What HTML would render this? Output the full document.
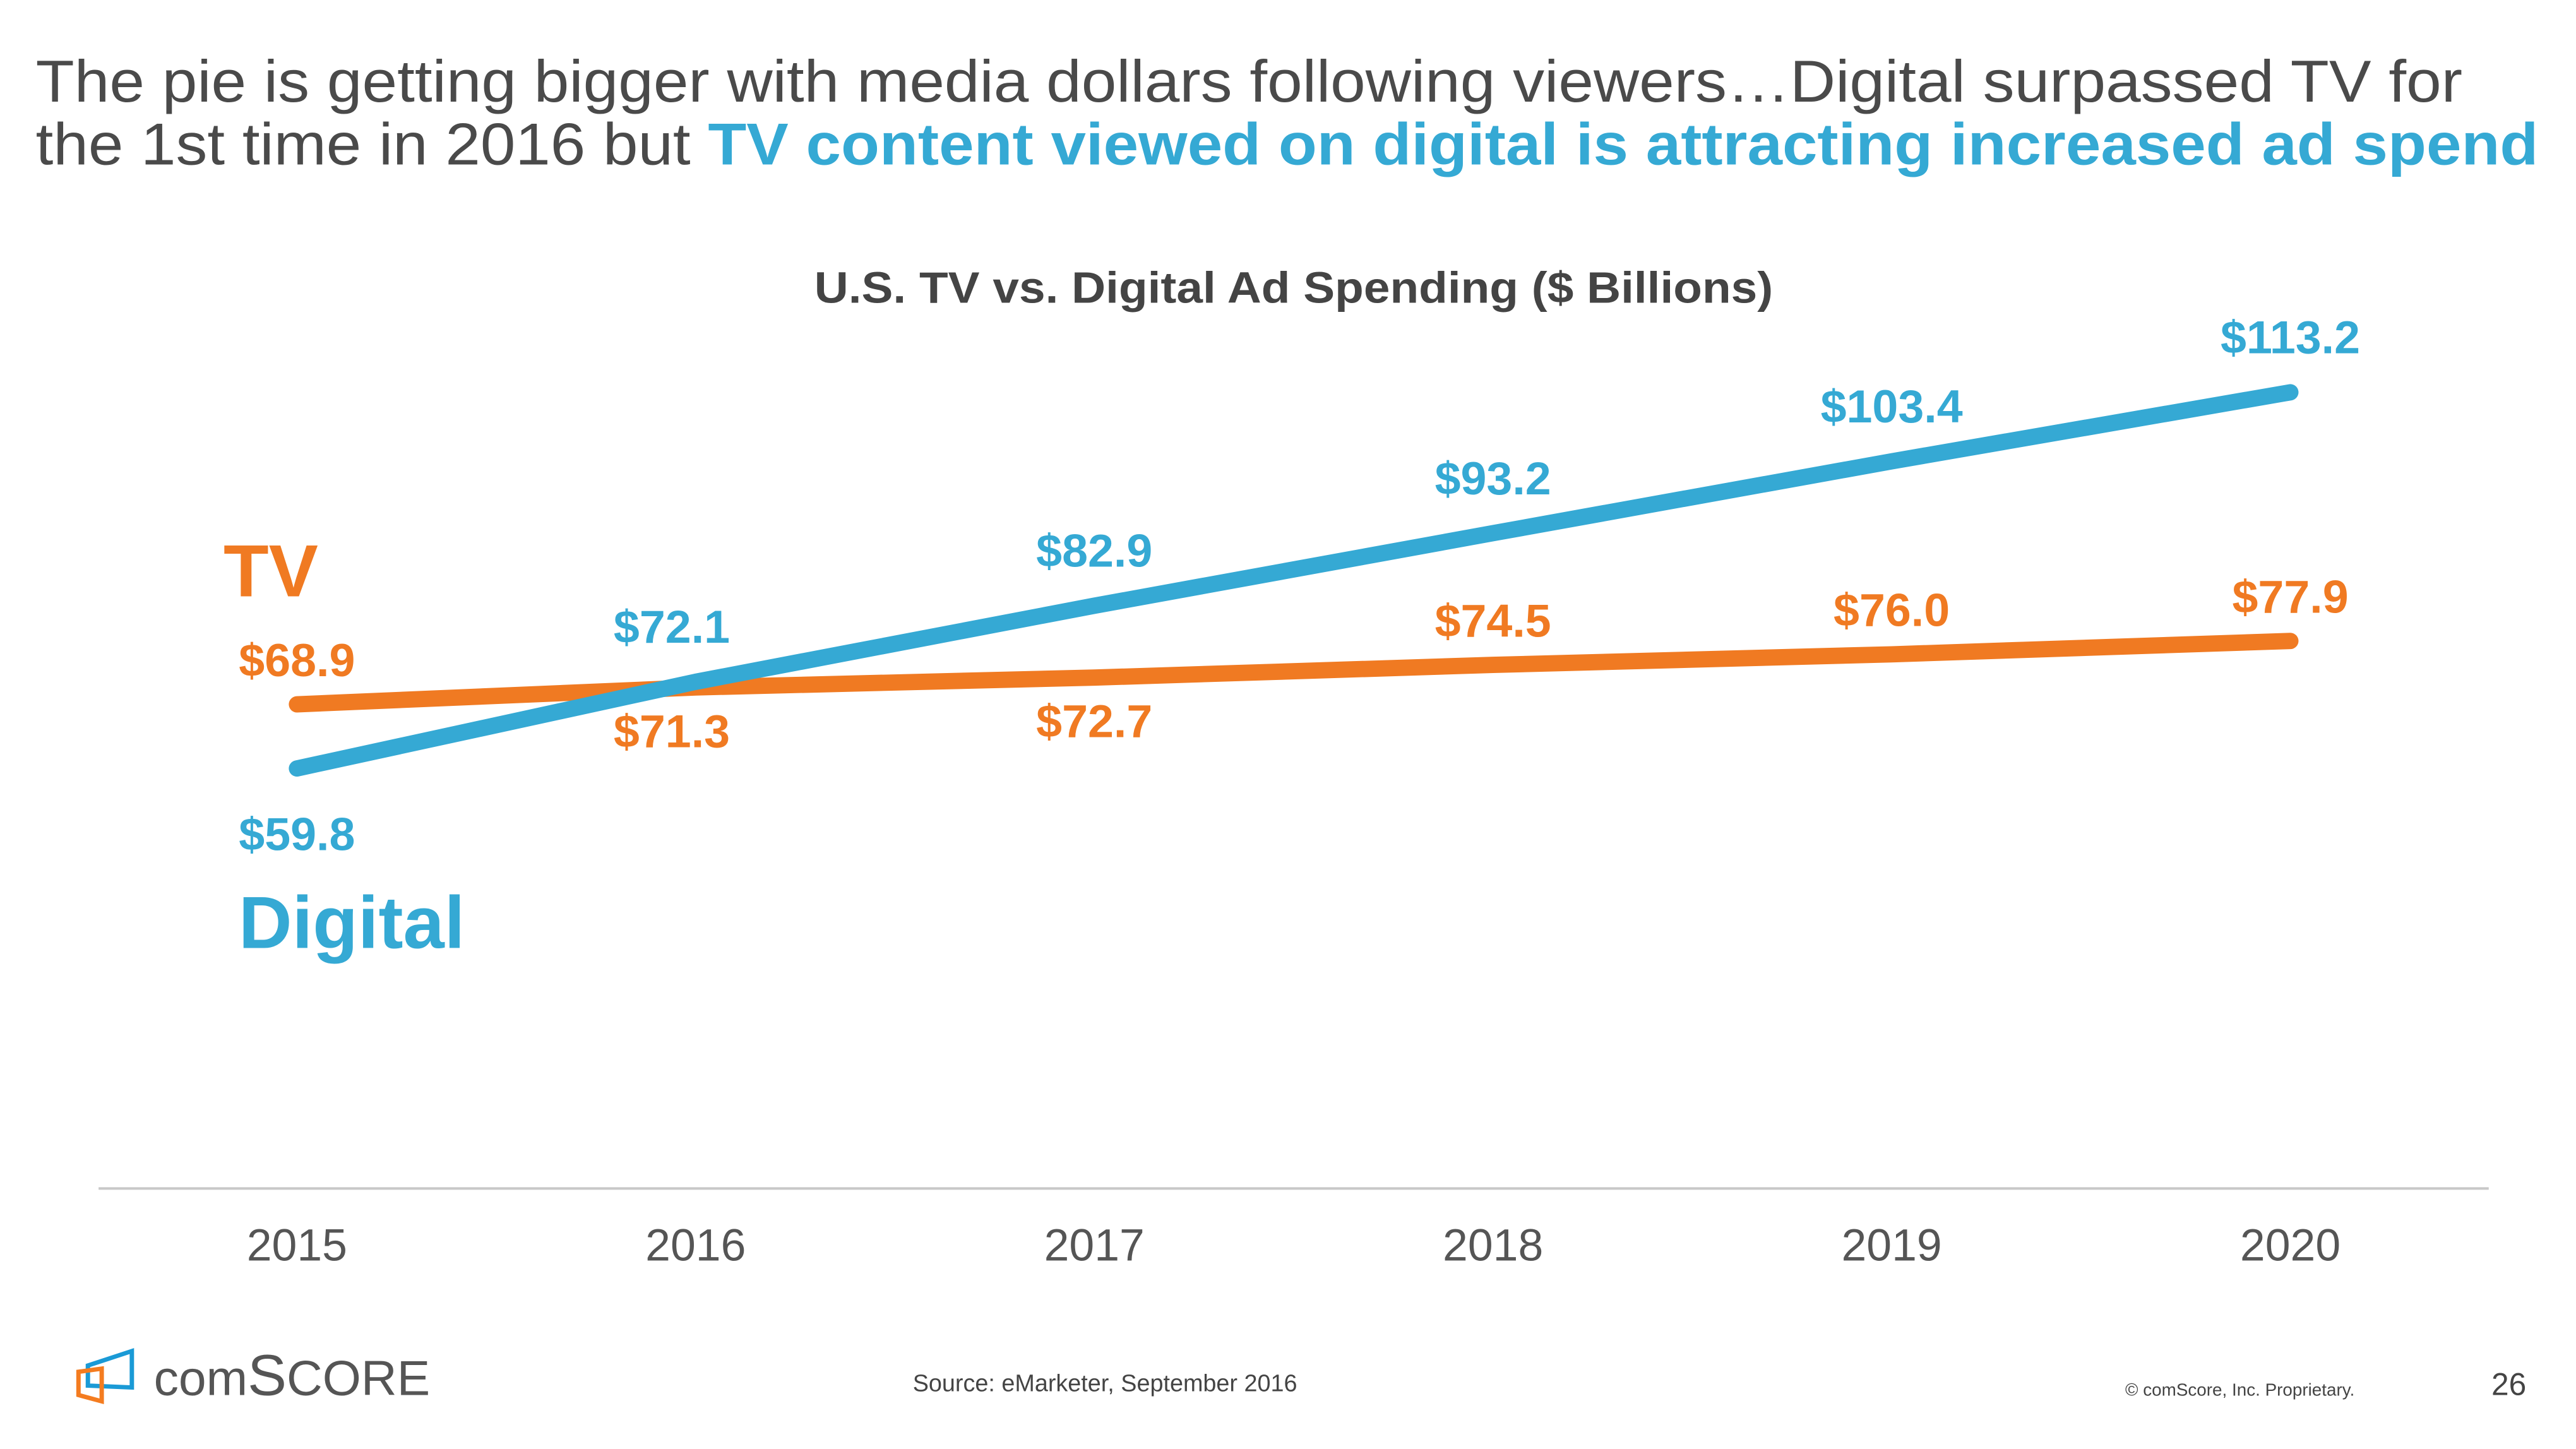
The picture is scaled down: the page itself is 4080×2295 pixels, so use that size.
<!DOCTYPE html>
<html><head><meta charset="utf-8"><style>
html,body{margin:0;padding:0;background:#fff;}
svg{display:block;font-family:"Liberation Sans Narrow","Liberation Sans",sans-serif;}
</style></head><body>
<svg id="chart" width="4080" height="2295" viewBox="0 0 4103 2308" preserveAspectRatio="none" xmlns="http://www.w3.org/2000/svg">
<text x="57" y="162" font-size="94" fill="#4a4a4a" textLength="3865" lengthAdjust="spacingAndGlyphs">The pie is getting bigger with media dollars following viewers…Digital surpassed TV for</text>
<text x="57" y="262" font-size="94" fill="#4a4a4a" textLength="3986" lengthAdjust="spacingAndGlyphs">the 1st time in 2016 but <tspan fill="#35a9d4" font-weight="bold">TV content viewed on digital is attracting increased ad spend</tspan></text>
<text x="1297" y="482" font-size="70" font-weight="bold" fill="#444" textLength="1527" lengthAdjust="spacingAndGlyphs">U.S. TV vs. Digital Ad Spending ($ Billions)</text>
<line x1="157" y1="1893" x2="3964" y2="1893" stroke="#c8c8c8" stroke-width="4"/>
<g id="years"></g>
<g id="lines"></g>
<g id="labels"></g>
<text x="356" y="950" font-size="118" font-weight="bold" fill="#f07a22">TV</text>
<text x="380" y="1510" font-size="118" font-weight="bold" fill="#35a9d4">Digital</text>
<g>
<path d="M140 2175 L210 2152 L210 2210 L140 2207 Z" fill="none" stroke="#1a9ad6" stroke-width="7"/>
<path d="M125 2185 L162 2180 L162 2232 L125 2222 Z" fill="none" stroke="#f47c20" stroke-width="7"/>
<text x="245" y="2222" font-family="Liberation Sans Narrow,Liberation Sans,sans-serif" font-size="78" fill="#555" textLength="440" lengthAdjust="spacingAndGlyphs">com<tspan font-size="92">S</tspan>CORE</text>
</g>
<text x="1760" y="2216" font-size="38" fill="#444" text-anchor="middle">Source: eMarketer, September 2016</text>
<text x="3385" y="2223" font-size="28" fill="#444">© comScore, Inc. Proprietary.</text>
<text x="3996" y="2222" font-size="50" fill="#444" text-anchor="middle">26</text>
</svg>
<script>
const years = ["2015","2016","2017","2018","2019","2020"];
const digital = [59.8,72.1,82.9,93.2,103.4,113.2];
const tv = [68.9,71.3,72.7,74.5,76.0,77.9];
const tvLabelBelow = [false,true,true,false,false,false];
const digitalLabelBelow = [true,false,false,false,false,false];
const NS="http://www.w3.org/2000/svg";
const X = i => 473 + i*635;
const Y = v => 1224 - (v-59.8)*11.22;
function mk(tag, attrs, parent){const e=document.createElementNS(NS,tag);for(const k in attrs)e.setAttribute(k,attrs[k]);document.getElementById(parent).appendChild(e);return e;}
years.forEach((y,i)=>{
  const t=mk('text',{x:X(i),y:2008,'font-size':72,fill:'#555','text-anchor':'middle'},'years');
  t.textContent=y;
  
  
});
function series(vals,color,name,below,labelName){
  const p=mk('polyline',{points:vals.map((v,i)=>X(i)+','+Y(v)).join(' '),fill:'none',stroke:color,'stroke-width':26,'stroke-linecap':'round','stroke-linejoin':'round'},'lines');
  
  
  vals.forEach((v,i)=>{
    const ty = below[i] ? Y(v)+ (name==='digital-line'?130:95) : Y(v)-(name==='digital-line'?62:45);
    const t=mk('text',{x:X(i)+(i===1?-38:0),y:ty,'font-size':74,'font-weight':'bold',fill:color,'text-anchor':'middle'},'labels');
    t.textContent='$'+v.toFixed(1);
    
    
  });
}
series(tv,'#f07a22','tv-line',tvLabelBelow,'tv-value-label');
series(digital,'#35a9d4','digital-line',digitalLabelBelow,'digital-value-label');
</script>
</body></html>
